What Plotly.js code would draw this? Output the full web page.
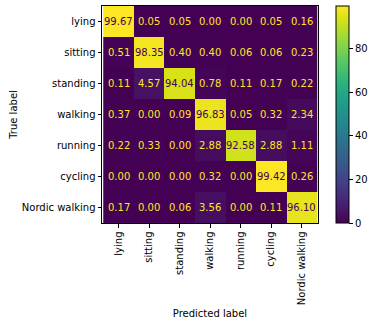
<!DOCTYPE html>
<html>
<head>
<meta charset="utf-8">
<script src="https://cdn.plot.ly/plotly-3.0.1.min.js"></script>
<style>html,body{margin:0;padding:0;background:#fff;}#chart{width:374px;height:326px;}</style>
</head>
<body>
<div id="chart"></div>
<script>
const labels = ["lying", "sitting", "standing", "walking", "running", "cycling", "Nordic walking"];
const lying = [99.67, 0.05, 0.05, 0.00, 0.00, 0.05, 0.16];
const sitting = [0.51, 98.35, 0.40, 0.40, 0.06, 0.06, 0.23];
const standing = [0.11, 4.57, 94.04, 0.78, 0.11, 0.17, 0.22];
const walking = [0.37, 0.00, 0.09, 96.83, 0.05, 0.32, 2.34];
const running = [0.22, 0.33, 0.00, 2.88, 92.58, 2.88, 1.11];
const cycling = [0.00, 0.00, 0.00, 0.32, 0.00, 99.42, 0.26];
const nordicWalking = [0.17, 0.00, 0.06, 3.56, 0.00, 0.11, 96.10];
const colorbarTicks = [0, 20, 40, 60, 80];

const z = [lying, sitting, standing, walking, running, cycling, nordicWalking];
let zmax = -Infinity, zmin = Infinity;
z.forEach(r => r.forEach(v => { zmax = Math.max(zmax, v); zmin = Math.min(zmin, v); }));
const thresh = (zmax + zmin) / 2;

const annotations = [];
z.forEach((row, i) => row.forEach((v, j) => {
  annotations.push({
    x: labels[j], y: labels[i], xref: 'x', yref: 'y',
    text: v.toFixed(2), showarrow: false,
    font: {family: 'DejaVu Sans', size: 10, color: v > thresh ? '#440154' : '#fde725'}
  });
}));

const trace = {
  type: 'heatmap',
  x: labels, y: labels, z: z,
  colorscale: 'Viridis', zmin: zmin, zmax: zmax,
  xgap: 0, ygap: 0, hoverinfo: 'none',
  colorbar: {
    x: 1.078, xanchor: 'left', xpad: 0, ypad: 0,
    y: 0.5, yanchor: 'middle', len: 1, lenmode: 'fraction',
    thickness: 13, thicknessmode: 'pixels',
    outlinewidth: 1, outlinecolor: '#000',
    tickvals: colorbarTicks, ticktext: colorbarTicks.map(String),
    ticks: 'outside', ticklen: 4, tickwidth: 1, tickcolor: '#000',
    tickfont: {family: 'DejaVu Sans', size: 10, color: '#000'}
  }
};

const axisCommon = {
  showgrid: false, zeroline: false,
  showline: true, linecolor: '#000', linewidth: 1, mirror: true,
  ticks: 'outside', ticklen: 3.5, tickwidth: 1, tickcolor: '#000',
  tickfont: {family: 'DejaVu Sans', size: 10, color: '#000'}
};

const layout = {
  width: 374, height: 326,
  margin: {l: 102, r: 55, t: 6, b: 103},
  paper_bgcolor: '#fff', plot_bgcolor: '#fff',
  font: {family: 'DejaVu Sans', size: 10, color: '#000'},
  xaxis: Object.assign({}, axisCommon, {
    type: 'category', tickangle: -90,
    title: {text: 'Predicted label', font: {family: 'DejaVu Sans', size: 10, color: '#000'}, standoff: 5}
  }),
  yaxis: Object.assign({}, axisCommon, {
    type: 'category', autorange: 'reversed',
    title: {text: 'True label', font: {family: 'DejaVu Sans', size: 10, color: '#000'}, standoff: 2}
  }),
  annotations: annotations
};

Plotly.newPlot('chart', [trace], layout, {displayModeBar: false, staticPlot: true});
</script>
</body>
</html>
